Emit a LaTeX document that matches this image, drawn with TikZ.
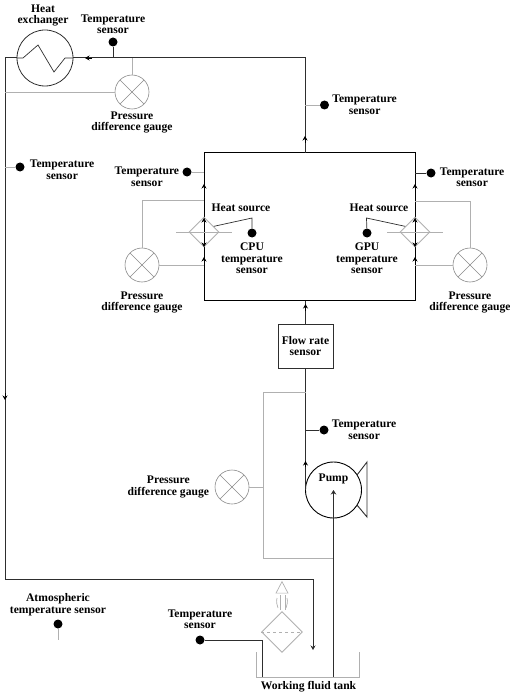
\documentclass[tikz,border=0pt]{standalone}
\usepackage{fontspec}
\setmainfont{Liberation Serif}
\usepackage{tikz}
\usetikzlibrary{arrows.meta, positioning, shapes.geometric}
\definecolor{RLink}{HTML}{2E2E2E}
\definecolor{RGrey}{HTML}{B0B0B0}
\definecolor{RMid}{HTML}{8A8A8A}
\tikzset{
  rlbl/.style={font=\fontsize{11.6}{11.5}\selectfont\bfseries, text=black, align=center, inner sep=0pt},
  rdot/.style={circle, fill=black, inner sep=0pt, minimum size=9pt},
  rgauge/.style={circle, draw=RMid, line width=0.6pt, inner sep=0pt, minimum size=34pt,
    path picture={
      \draw[RMid, line width=0.6pt] (path picture bounding box.south west)--(path picture bounding box.north east);
      \draw[RMid, line width=0.6pt] (path picture bounding box.north west)--(path picture bounding box.south east);}},
  rdiam/.style={diamond, draw=RGrey, line width=0.9pt, inner sep=0pt, minimum size=30pt},
  rbox/.style={rectangle, draw=black, line width=1pt, inner sep=0pt},
  rpipe/.style={line width=1pt, draw=RLink},
  rthin/.style={line width=0.7pt, draw=RLink},
  rgrey/.style={line width=0.7pt, draw=RGrey},
  rtip/.style={-{Stealth[length=4.5pt,width=5pt]}, line width=0.8pt, draw=black},
}
\begin{document}
\begin{tikzpicture}[x=1pt, y=-1pt, node distance=3pt]
  \useasboundingbox (0,0) rectangle (510,695);
  % top loop
  \node[circle, draw=RLink, line width=0.8pt, minimum size=56pt, inner sep=0pt] (hx) at (45,58) {};
  \node[rlbl, above=3pt of hx, xshift=-2pt] (hxl) {Heat\\exchanger};
  \node[rdot] (ts1) at (113,42) {};
  \node[rlbl, above=3pt of ts1] (ts1l) {Temperature\\sensor};
  \node[rgauge] (pg1) at (132,92) {};
  \node[rlbl, below=2pt of pg1] (pg1l) {Pressure\\difference gauge};
  \node[rdot] (ts2) at (324.5,105) {};
  \node[rlbl, right=3pt of ts2] (ts2l) {Temperature\\sensor};
  \node[rdot] (ts3) at (20,167) {};
  \node[rlbl, right=5pt of ts3, yshift=-3pt] (ts3l) {Temperature\\sensor};
  % heat source box
  \node[rbox, minimum width=211pt, minimum height=147pt] (hs) at (309.5,226.5) {};
  \coordinate (j1) at (305,153);
  \coordinate (j2) at (305,58);
  \coordinate (c1) at (5,58);
  \coordinate (c2) at (5,579);
  \coordinate (c3) at (313,579);
  \coordinate (c4) at (313,650);
  \draw[rpipe] (j1)--(j2)--(hx.east);
  \draw[rpipe] (hx.west)--(c1)--(c2)--(c3);
  \draw[rthin, -{Stealth[length=4.5pt,width=5pt]}] (c3)--(c4);
  \coordinate (z1) at (23,58);
  \coordinate (z2) at (38,45);
  \coordinate (z3) at (54,72);
  \coordinate (z4) at (65,58);
  \draw[rthin] (hx.west)--(z1)--(z2)--(z3)--(z4)--(hx.east);
  \draw[rthin] (ts1)--(113,58);
  \draw[rgrey] (ts2)--(305,105);
  \draw[rgrey] (ts3)--(5,167);
  \draw[rgrey] (pg1.north)--(132,58);
  \draw[rgrey] (pg1.west)--(5,92);
  \draw[rtip] (92,58)--(85,58);
  \draw[rtip] (5,393)--(5,400);
  \draw[rtip] (305,143)--(305,136);
  % cpu side
  \node[rdot] (ts4) at (187,172) {};
  \node[rlbl, left=3pt of ts4, yshift=-5pt] (ts4l) {Temperature\\sensor};
  \node[rdiam] (cpu) at (204,232) {};
  \node[rgauge] (pg2) at (142,265) {};
  \node[rlbl, below=9pt of pg2] (pg2l) {Pressure\\difference gauge};
  \node[rlbl] (cpuh) at (241,208) {Heat source};
  \node[rdot] (ts5) at (252,233) {};
  \node[rlbl, below=5pt of ts5] (ts5l) {CPU\\temperature\\sensor};
  \coordinate (k1) at (252,218);
  \draw[rgrey] (ts4)--(204,172);
  \draw[rgrey] (176,232)--(232,232);
  \draw[rgrey] (pg2.north)--(142,200)--(204,200);
  \draw[rgrey] (pg2.east)--(204,265);
  \draw[rthin] (cpu.30)--(k1)--(ts5);
  \foreach \y in {187,221,260}{\draw[rtip] (204,\y+3)--(204,\y-3);}
  \draw[rtip] (204,243)--(204,247);
  % gpu side
  \node[rdot] (ts6) at (431,173) {};
  \node[rlbl, right=4pt of ts6, yshift=-4.5pt] (ts6l) {Temperature\\sensor};
  \node[rdiam] (gpu) at (415,232) {};
  \node[rgauge] (pg3) at (470,265) {};
  \node[rlbl, below=9pt of pg3] (pg3l) {Pressure\\difference gauge};
  \node[rlbl] (gpuh) at (379,208) {Heat source};
  \node[rdot] (ts7) at (367,233) {};
  \node[rlbl, below=5pt of ts7] (ts7l) {GPU\\temperature\\sensor};
  \coordinate (k2) at (366.5,218);
  \draw[rthin] (ts6)--(415,173);
  \draw[rgrey] (387,232)--(443,232);
  \draw[rgrey] (pg3.north)--(470,201)--(415,201);
  \draw[rgrey] (pg3.west)--(415,265);
  \draw[rthin] (gpu.150)--(k2)--(ts7);
  \foreach \y in {187,221,260}{\draw[rtip] (415,\y+3)--(415,\y-3);}
  \draw[rtip] (415,243)--(415,247);
  % pump branch
  \node[rbox, minimum width=55pt, minimum height=44pt, rlbl, draw=RLink, line width=1pt] (fr) at (305.5,346) {Flow rate\\sensor};
  \node[circle, draw=black, line width=0.9pt, minimum size=56pt, inner sep=0pt] (pump) at (333.5,490) {};
  \node[rlbl] (pumpl) at (333.5,479) {Pump};
  \coordinate (h1) at (357,475);
  \coordinate (h2) at (367,462);
  \coordinate (h3) at (367,517);
  \coordinate (h4) at (357,505);
  \draw[rthin, line width=0.9pt] (h1)--(h2)--(h3)--(h4);
  \draw[rpipe] (fr.north)--(fr.north |- hs.south);
  \draw[rtip] (305.5,311)--(305.5,304);
  \coordinate (p1) at (305.5,490);
  \draw[rthin] (fr.south)--(p1);
  \draw[rtip] (305.5,467)--(305.5,461);
  \coordinate (b1) at (305.5,392);
  \coordinate (b2) at (263,392);
  \coordinate (b3) at (263,558);
  \coordinate (b4) at (333.5,558);
  \draw[rgrey] (b1)--(b2)--(b3)--(b4);
  \node[rdot] (ts8) at (324,430) {};
  \node[rlbl, right=3pt of ts8] (ts8l) {Temperature\\sensor};
  \draw[rthin] (ts8)--(305.5,430);
  \node[rgauge] (pg4) at (232,487) {};
  \node[rlbl, left=5.5pt of pg4] (pg4l) {Pressure\\difference gauge};
  \draw[rgrey] (pg4.east)--(263,487);
  \coordinate (t0) at (333.5,677);
  \coordinate (p2) at (333.5,490);
  \draw[rthin, -{Stealth[length=4.5pt,width=5.5pt]}] (t0)--(p2);
  % tank and filter
  \coordinate (t1) at (256,652);
  \coordinate (t2) at (256,677);
  \coordinate (t3) at (359,677);
  \coordinate (t4) at (359,652);
  \draw[rgrey] (t1)--(t2)--(t3)--(t4);
  \node[rlbl] (tank) at (308.5,687) {Working fluid tank};
  \node[rdot] (ts9) at (200,640) {};
  \node[rlbl, above=6pt of ts9] (ts9l) {Temperature\\sensor};
  \draw[rthin] (ts9)--(262,640)--(262,677);
  \node[diamond, draw=RGrey, line width=0.9pt, inner sep=0pt, minimum size=41pt] (flt) at (282,632) {};
  \draw[rgrey, dashed] (flt.west)--(flt.east);
  \node[isosceles triangle, isosceles triangle apex angle=60, isosceles triangle stretches, shape border rotate=90, draw=RGrey,
    line width=0.7pt, inner sep=0pt, minimum height=11.5pt, minimum width=12pt] (vent) at (282,589.5) {};
  \coordinate (v1) at (280,595);
  \coordinate (v2) at (280,610);
  \coordinate (v3) at (285,595);
  \coordinate (v4) at (285,610);
  \draw[rgrey] (v1)--(v2);
  \draw[rgrey] (v3)--(v4);
  \draw[rgrey] (277,598) .. controls (276,602) and (277,605) .. (278,608);
  \draw[rgrey] (287,598) .. controls (288,602) and (287,605) .. (286,608);
  % atmosphere
  \node[rdot] (ts10) at (58,624) {};
  \node[rlbl, above=3.5pt of ts10] (ts10l) {Atmospheric\\temperature sensor};
  \coordinate (a1) at (58,640);
  \draw[rgrey] (ts10)--(a1);
\end{tikzpicture}
\end{document}
